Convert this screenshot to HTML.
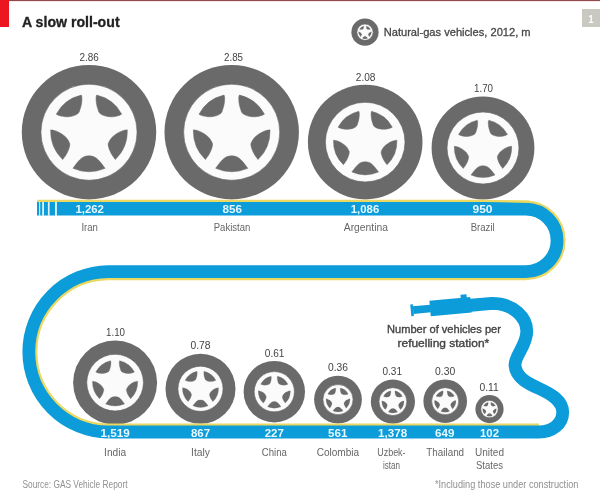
<!DOCTYPE html>
<html lang="en"><head><meta charset="utf-8"><title>A slow roll-out</title>
<style>html,body{margin:0;padding:0;background:#fff}svg{display:block}text{font-family:'Liberation Sans', sans-serif}</style>
</head><body>
<svg width="600" height="491" viewBox="0 0 600 491">
<rect width="600" height="491" fill="#fff"/>
<rect x="0" y="0" width="600" height="1" fill="#8f4a50"/>
<rect x="0" y="1" width="600" height="1" fill="#fbe6e8"/>
<rect x="0" y="0" width="9" height="27" fill="#ec1620"/>
<rect x="582" y="9" width="18" height="18" fill="#c9c9c1"/>
<text x="588.50" y="22.50" font-size="11" font-weight="bold" fill="#fff" textLength="5.00" lengthAdjust="spacingAndGlyphs">1</text>
<text x="22.00" y="27.00" font-size="14" font-weight="bold" fill="#222" stroke="#222" stroke-width="0.3" textLength="97.60" lengthAdjust="spacingAndGlyphs">A slow roll-out</text>
<circle cx="365.00" cy="32.20" r="13.60" fill="#6a6a6a"/>
<circle cx="365.00" cy="32.20" r="8.16" fill="#fbfbfb" stroke="#5f5f5f" stroke-width="0.6"/>
<g transform="translate(365.00,32.20) scale(8.160)" fill="#6a6a6a" stroke="#6a6a6a" stroke-width="0.012" stroke-linejoin="round">
<path d="M-0.160,-0.772 C-0.158,-0.766 -0.151,-0.757 -0.149,-0.738 C-0.147,-0.718 -0.147,-0.684 -0.149,-0.654 C-0.151,-0.624 -0.156,-0.587 -0.163,-0.557 C-0.169,-0.527 -0.179,-0.499 -0.188,-0.474 C-0.196,-0.448 -0.199,-0.424 -0.215,-0.404 C-0.231,-0.384 -0.257,-0.369 -0.285,-0.356 C-0.313,-0.343 -0.347,-0.334 -0.382,-0.328 C-0.417,-0.322 -0.456,-0.319 -0.493,-0.321 C-0.530,-0.323 -0.573,-0.333 -0.604,-0.342 C-0.635,-0.351 -0.668,-0.370 -0.681,-0.376 A0.8,0.8 0 0 1 -0.160,-0.772ZM0.160,-0.772 C0.158,-0.766 0.151,-0.757 0.149,-0.738 C0.147,-0.718 0.147,-0.684 0.149,-0.654 C0.151,-0.624 0.156,-0.587 0.163,-0.557 C0.169,-0.527 0.179,-0.499 0.188,-0.474 C0.196,-0.448 0.199,-0.424 0.215,-0.404 C0.231,-0.384 0.257,-0.369 0.285,-0.356 C0.313,-0.343 0.347,-0.334 0.382,-0.328 C0.417,-0.322 0.456,-0.319 0.493,-0.321 C0.530,-0.323 0.573,-0.333 0.604,-0.342 C0.635,-0.351 0.668,-0.370 0.681,-0.376 A0.8,0.8 0 0 0 0.160,-0.772ZM-0.797,-0.049 C-0.780,-0.045 -0.729,-0.041 -0.692,-0.027 C-0.655,-0.013 -0.610,0.009 -0.573,0.033 C-0.536,0.057 -0.498,0.088 -0.471,0.117 C-0.444,0.147 -0.424,0.186 -0.412,0.211 C-0.400,0.236 -0.397,0.243 -0.400,0.270 C-0.403,0.297 -0.416,0.338 -0.429,0.372 C-0.442,0.406 -0.460,0.441 -0.480,0.474 C-0.500,0.507 -0.537,0.552 -0.548,0.568 A0.82,0.82 0 0 1 -0.797,-0.049ZM0.797,-0.049 C0.780,-0.045 0.729,-0.041 0.692,-0.027 C0.655,-0.013 0.610,0.009 0.573,0.033 C0.536,0.057 0.498,0.088 0.471,0.117 C0.444,0.147 0.424,0.186 0.412,0.211 C0.400,0.236 0.397,0.243 0.400,0.270 C0.403,0.297 0.416,0.338 0.429,0.372 C0.442,0.406 0.460,0.441 0.480,0.474 C0.500,0.507 0.537,0.552 0.548,0.568 A0.82,0.82 0 0 0 0.797,-0.049ZM-0.334,0.751 C-0.323,0.737 -0.293,0.694 -0.269,0.664 C-0.245,0.634 -0.218,0.599 -0.191,0.574 C-0.164,0.548 -0.136,0.526 -0.104,0.512 C-0.072,0.499 -0.035,0.492 0.000,0.492 C0.035,0.492 0.072,0.499 0.104,0.512 C0.136,0.526 0.164,0.548 0.191,0.574 C0.218,0.599 0.245,0.634 0.269,0.664 C0.293,0.694 0.323,0.737 0.334,0.751 A0.84,0.84 0 0 1 -0.334,0.751Z"/>
</g>
<text x="383.70" y="35.80" font-size="11" font-weight="normal" fill="#484848" stroke="#484848" stroke-width="0.3" textLength="146.90" lengthAdjust="spacingAndGlyphs">Natural-gas vehicles, 2012, m</text>
<circle cx="89.00" cy="132.20" r="67.20" fill="#6a6a6a"/>
<circle cx="89.00" cy="132.20" r="48.05" fill="#fbfbfb" stroke="#5f5f5f" stroke-width="0.6"/>
<g transform="translate(89.00,132.20) scale(48.048)" fill="#6a6a6a" stroke="#6a6a6a" stroke-width="0.012" stroke-linejoin="round">
<path d="M-0.160,-0.772 C-0.158,-0.766 -0.151,-0.757 -0.149,-0.738 C-0.147,-0.718 -0.147,-0.684 -0.149,-0.654 C-0.151,-0.624 -0.156,-0.587 -0.163,-0.557 C-0.169,-0.527 -0.179,-0.499 -0.188,-0.474 C-0.196,-0.448 -0.199,-0.424 -0.215,-0.404 C-0.231,-0.384 -0.257,-0.369 -0.285,-0.356 C-0.313,-0.343 -0.347,-0.334 -0.382,-0.328 C-0.417,-0.322 -0.456,-0.319 -0.493,-0.321 C-0.530,-0.323 -0.573,-0.333 -0.604,-0.342 C-0.635,-0.351 -0.668,-0.370 -0.681,-0.376 A0.8,0.8 0 0 1 -0.160,-0.772ZM0.160,-0.772 C0.158,-0.766 0.151,-0.757 0.149,-0.738 C0.147,-0.718 0.147,-0.684 0.149,-0.654 C0.151,-0.624 0.156,-0.587 0.163,-0.557 C0.169,-0.527 0.179,-0.499 0.188,-0.474 C0.196,-0.448 0.199,-0.424 0.215,-0.404 C0.231,-0.384 0.257,-0.369 0.285,-0.356 C0.313,-0.343 0.347,-0.334 0.382,-0.328 C0.417,-0.322 0.456,-0.319 0.493,-0.321 C0.530,-0.323 0.573,-0.333 0.604,-0.342 C0.635,-0.351 0.668,-0.370 0.681,-0.376 A0.8,0.8 0 0 0 0.160,-0.772ZM-0.797,-0.049 C-0.780,-0.045 -0.729,-0.041 -0.692,-0.027 C-0.655,-0.013 -0.610,0.009 -0.573,0.033 C-0.536,0.057 -0.498,0.088 -0.471,0.117 C-0.444,0.147 -0.424,0.186 -0.412,0.211 C-0.400,0.236 -0.397,0.243 -0.400,0.270 C-0.403,0.297 -0.416,0.338 -0.429,0.372 C-0.442,0.406 -0.460,0.441 -0.480,0.474 C-0.500,0.507 -0.537,0.552 -0.548,0.568 A0.82,0.82 0 0 1 -0.797,-0.049ZM0.797,-0.049 C0.780,-0.045 0.729,-0.041 0.692,-0.027 C0.655,-0.013 0.610,0.009 0.573,0.033 C0.536,0.057 0.498,0.088 0.471,0.117 C0.444,0.147 0.424,0.186 0.412,0.211 C0.400,0.236 0.397,0.243 0.400,0.270 C0.403,0.297 0.416,0.338 0.429,0.372 C0.442,0.406 0.460,0.441 0.480,0.474 C0.500,0.507 0.537,0.552 0.548,0.568 A0.82,0.82 0 0 0 0.797,-0.049ZM-0.334,0.751 C-0.323,0.737 -0.293,0.694 -0.269,0.664 C-0.245,0.634 -0.218,0.599 -0.191,0.574 C-0.164,0.548 -0.136,0.526 -0.104,0.512 C-0.072,0.499 -0.035,0.492 0.000,0.492 C0.035,0.492 0.072,0.499 0.104,0.512 C0.136,0.526 0.164,0.548 0.191,0.574 C0.218,0.599 0.245,0.634 0.269,0.664 C0.293,0.694 0.323,0.737 0.334,0.751 A0.84,0.84 0 0 1 -0.334,0.751Z"/>
</g>
<text x="79.50" y="60.60" font-size="10.5" font-weight="normal" fill="#444" textLength="19.30" lengthAdjust="spacingAndGlyphs">2.86</text>
<text x="81.45" y="231.20" font-size="10.5" font-weight="normal" fill="#666" textLength="16.50" lengthAdjust="spacingAndGlyphs">Iran</text>
<circle cx="231.70" cy="132.20" r="67.20" fill="#6a6a6a"/>
<circle cx="231.70" cy="132.20" r="48.05" fill="#fbfbfb" stroke="#5f5f5f" stroke-width="0.6"/>
<g transform="translate(231.70,132.20) scale(48.048)" fill="#6a6a6a" stroke="#6a6a6a" stroke-width="0.012" stroke-linejoin="round">
<path d="M-0.160,-0.772 C-0.158,-0.766 -0.151,-0.757 -0.149,-0.738 C-0.147,-0.718 -0.147,-0.684 -0.149,-0.654 C-0.151,-0.624 -0.156,-0.587 -0.163,-0.557 C-0.169,-0.527 -0.179,-0.499 -0.188,-0.474 C-0.196,-0.448 -0.199,-0.424 -0.215,-0.404 C-0.231,-0.384 -0.257,-0.369 -0.285,-0.356 C-0.313,-0.343 -0.347,-0.334 -0.382,-0.328 C-0.417,-0.322 -0.456,-0.319 -0.493,-0.321 C-0.530,-0.323 -0.573,-0.333 -0.604,-0.342 C-0.635,-0.351 -0.668,-0.370 -0.681,-0.376 A0.8,0.8 0 0 1 -0.160,-0.772ZM0.160,-0.772 C0.158,-0.766 0.151,-0.757 0.149,-0.738 C0.147,-0.718 0.147,-0.684 0.149,-0.654 C0.151,-0.624 0.156,-0.587 0.163,-0.557 C0.169,-0.527 0.179,-0.499 0.188,-0.474 C0.196,-0.448 0.199,-0.424 0.215,-0.404 C0.231,-0.384 0.257,-0.369 0.285,-0.356 C0.313,-0.343 0.347,-0.334 0.382,-0.328 C0.417,-0.322 0.456,-0.319 0.493,-0.321 C0.530,-0.323 0.573,-0.333 0.604,-0.342 C0.635,-0.351 0.668,-0.370 0.681,-0.376 A0.8,0.8 0 0 0 0.160,-0.772ZM-0.797,-0.049 C-0.780,-0.045 -0.729,-0.041 -0.692,-0.027 C-0.655,-0.013 -0.610,0.009 -0.573,0.033 C-0.536,0.057 -0.498,0.088 -0.471,0.117 C-0.444,0.147 -0.424,0.186 -0.412,0.211 C-0.400,0.236 -0.397,0.243 -0.400,0.270 C-0.403,0.297 -0.416,0.338 -0.429,0.372 C-0.442,0.406 -0.460,0.441 -0.480,0.474 C-0.500,0.507 -0.537,0.552 -0.548,0.568 A0.82,0.82 0 0 1 -0.797,-0.049ZM0.797,-0.049 C0.780,-0.045 0.729,-0.041 0.692,-0.027 C0.655,-0.013 0.610,0.009 0.573,0.033 C0.536,0.057 0.498,0.088 0.471,0.117 C0.444,0.147 0.424,0.186 0.412,0.211 C0.400,0.236 0.397,0.243 0.400,0.270 C0.403,0.297 0.416,0.338 0.429,0.372 C0.442,0.406 0.460,0.441 0.480,0.474 C0.500,0.507 0.537,0.552 0.548,0.568 A0.82,0.82 0 0 0 0.797,-0.049ZM-0.334,0.751 C-0.323,0.737 -0.293,0.694 -0.269,0.664 C-0.245,0.634 -0.218,0.599 -0.191,0.574 C-0.164,0.548 -0.136,0.526 -0.104,0.512 C-0.072,0.499 -0.035,0.492 0.000,0.492 C0.035,0.492 0.072,0.499 0.104,0.512 C0.136,0.526 0.164,0.548 0.191,0.574 C0.218,0.599 0.245,0.634 0.269,0.664 C0.293,0.694 0.323,0.737 0.334,0.751 A0.84,0.84 0 0 1 -0.334,0.751Z"/>
</g>
<text x="224.00" y="60.80" font-size="10.5" font-weight="normal" fill="#444" textLength="19.00" lengthAdjust="spacingAndGlyphs">2.85</text>
<text x="213.75" y="231.20" font-size="10.5" font-weight="normal" fill="#666" textLength="36.50" lengthAdjust="spacingAndGlyphs">Pakistan</text>
<circle cx="365.20" cy="142.10" r="57.30" fill="#6a6a6a"/>
<circle cx="365.20" cy="142.10" r="39.82" fill="#fbfbfb" stroke="#5f5f5f" stroke-width="0.6"/>
<g transform="translate(365.20,142.10) scale(39.823)" fill="#6a6a6a" stroke="#6a6a6a" stroke-width="0.012" stroke-linejoin="round">
<path d="M-0.160,-0.772 C-0.158,-0.766 -0.151,-0.757 -0.149,-0.738 C-0.147,-0.718 -0.147,-0.684 -0.149,-0.654 C-0.151,-0.624 -0.156,-0.587 -0.163,-0.557 C-0.169,-0.527 -0.179,-0.499 -0.188,-0.474 C-0.196,-0.448 -0.199,-0.424 -0.215,-0.404 C-0.231,-0.384 -0.257,-0.369 -0.285,-0.356 C-0.313,-0.343 -0.347,-0.334 -0.382,-0.328 C-0.417,-0.322 -0.456,-0.319 -0.493,-0.321 C-0.530,-0.323 -0.573,-0.333 -0.604,-0.342 C-0.635,-0.351 -0.668,-0.370 -0.681,-0.376 A0.8,0.8 0 0 1 -0.160,-0.772ZM0.160,-0.772 C0.158,-0.766 0.151,-0.757 0.149,-0.738 C0.147,-0.718 0.147,-0.684 0.149,-0.654 C0.151,-0.624 0.156,-0.587 0.163,-0.557 C0.169,-0.527 0.179,-0.499 0.188,-0.474 C0.196,-0.448 0.199,-0.424 0.215,-0.404 C0.231,-0.384 0.257,-0.369 0.285,-0.356 C0.313,-0.343 0.347,-0.334 0.382,-0.328 C0.417,-0.322 0.456,-0.319 0.493,-0.321 C0.530,-0.323 0.573,-0.333 0.604,-0.342 C0.635,-0.351 0.668,-0.370 0.681,-0.376 A0.8,0.8 0 0 0 0.160,-0.772ZM-0.797,-0.049 C-0.780,-0.045 -0.729,-0.041 -0.692,-0.027 C-0.655,-0.013 -0.610,0.009 -0.573,0.033 C-0.536,0.057 -0.498,0.088 -0.471,0.117 C-0.444,0.147 -0.424,0.186 -0.412,0.211 C-0.400,0.236 -0.397,0.243 -0.400,0.270 C-0.403,0.297 -0.416,0.338 -0.429,0.372 C-0.442,0.406 -0.460,0.441 -0.480,0.474 C-0.500,0.507 -0.537,0.552 -0.548,0.568 A0.82,0.82 0 0 1 -0.797,-0.049ZM0.797,-0.049 C0.780,-0.045 0.729,-0.041 0.692,-0.027 C0.655,-0.013 0.610,0.009 0.573,0.033 C0.536,0.057 0.498,0.088 0.471,0.117 C0.444,0.147 0.424,0.186 0.412,0.211 C0.400,0.236 0.397,0.243 0.400,0.270 C0.403,0.297 0.416,0.338 0.429,0.372 C0.442,0.406 0.460,0.441 0.480,0.474 C0.500,0.507 0.537,0.552 0.548,0.568 A0.82,0.82 0 0 0 0.797,-0.049ZM-0.334,0.751 C-0.323,0.737 -0.293,0.694 -0.269,0.664 C-0.245,0.634 -0.218,0.599 -0.191,0.574 C-0.164,0.548 -0.136,0.526 -0.104,0.512 C-0.072,0.499 -0.035,0.492 0.000,0.492 C0.035,0.492 0.072,0.499 0.104,0.512 C0.136,0.526 0.164,0.548 0.191,0.574 C0.218,0.599 0.245,0.634 0.269,0.664 C0.293,0.694 0.323,0.737 0.334,0.751 A0.84,0.84 0 0 1 -0.334,0.751Z"/>
</g>
<text x="355.80" y="80.50" font-size="10.5" font-weight="normal" fill="#444" textLength="19.70" lengthAdjust="spacingAndGlyphs">2.08</text>
<text x="343.80" y="231.20" font-size="10.5" font-weight="normal" fill="#666" textLength="44.20" lengthAdjust="spacingAndGlyphs">Argentina</text>
<circle cx="483.00" cy="148.00" r="51.40" fill="#6a6a6a"/>
<circle cx="483.00" cy="148.00" r="35.98" fill="#fbfbfb" stroke="#5f5f5f" stroke-width="0.6"/>
<g transform="translate(483.00,148.00) scale(35.980)" fill="#6a6a6a" stroke="#6a6a6a" stroke-width="0.012" stroke-linejoin="round">
<path d="M-0.160,-0.772 C-0.158,-0.766 -0.151,-0.757 -0.149,-0.738 C-0.147,-0.718 -0.147,-0.684 -0.149,-0.654 C-0.151,-0.624 -0.156,-0.587 -0.163,-0.557 C-0.169,-0.527 -0.179,-0.499 -0.188,-0.474 C-0.196,-0.448 -0.199,-0.424 -0.215,-0.404 C-0.231,-0.384 -0.257,-0.369 -0.285,-0.356 C-0.313,-0.343 -0.347,-0.334 -0.382,-0.328 C-0.417,-0.322 -0.456,-0.319 -0.493,-0.321 C-0.530,-0.323 -0.573,-0.333 -0.604,-0.342 C-0.635,-0.351 -0.668,-0.370 -0.681,-0.376 A0.8,0.8 0 0 1 -0.160,-0.772ZM0.160,-0.772 C0.158,-0.766 0.151,-0.757 0.149,-0.738 C0.147,-0.718 0.147,-0.684 0.149,-0.654 C0.151,-0.624 0.156,-0.587 0.163,-0.557 C0.169,-0.527 0.179,-0.499 0.188,-0.474 C0.196,-0.448 0.199,-0.424 0.215,-0.404 C0.231,-0.384 0.257,-0.369 0.285,-0.356 C0.313,-0.343 0.347,-0.334 0.382,-0.328 C0.417,-0.322 0.456,-0.319 0.493,-0.321 C0.530,-0.323 0.573,-0.333 0.604,-0.342 C0.635,-0.351 0.668,-0.370 0.681,-0.376 A0.8,0.8 0 0 0 0.160,-0.772ZM-0.797,-0.049 C-0.780,-0.045 -0.729,-0.041 -0.692,-0.027 C-0.655,-0.013 -0.610,0.009 -0.573,0.033 C-0.536,0.057 -0.498,0.088 -0.471,0.117 C-0.444,0.147 -0.424,0.186 -0.412,0.211 C-0.400,0.236 -0.397,0.243 -0.400,0.270 C-0.403,0.297 -0.416,0.338 -0.429,0.372 C-0.442,0.406 -0.460,0.441 -0.480,0.474 C-0.500,0.507 -0.537,0.552 -0.548,0.568 A0.82,0.82 0 0 1 -0.797,-0.049ZM0.797,-0.049 C0.780,-0.045 0.729,-0.041 0.692,-0.027 C0.655,-0.013 0.610,0.009 0.573,0.033 C0.536,0.057 0.498,0.088 0.471,0.117 C0.444,0.147 0.424,0.186 0.412,0.211 C0.400,0.236 0.397,0.243 0.400,0.270 C0.403,0.297 0.416,0.338 0.429,0.372 C0.442,0.406 0.460,0.441 0.480,0.474 C0.500,0.507 0.537,0.552 0.548,0.568 A0.82,0.82 0 0 0 0.797,-0.049ZM-0.334,0.751 C-0.323,0.737 -0.293,0.694 -0.269,0.664 C-0.245,0.634 -0.218,0.599 -0.191,0.574 C-0.164,0.548 -0.136,0.526 -0.104,0.512 C-0.072,0.499 -0.035,0.492 0.000,0.492 C0.035,0.492 0.072,0.499 0.104,0.512 C0.136,0.526 0.164,0.548 0.191,0.574 C0.218,0.599 0.245,0.634 0.269,0.664 C0.293,0.694 0.323,0.737 0.334,0.751 A0.84,0.84 0 0 1 -0.334,0.751Z"/>
</g>
<text x="474.00" y="91.50" font-size="10.5" font-weight="normal" fill="#444" textLength="19.00" lengthAdjust="spacingAndGlyphs">1.70</text>
<text x="470.75" y="231.20" font-size="10.5" font-weight="normal" fill="#666" textLength="23.90" lengthAdjust="spacingAndGlyphs">Brazil</text>
<circle cx="115.10" cy="382.60" r="42.00" fill="#6a6a6a"/>
<circle cx="115.10" cy="382.60" r="28.35" fill="#fbfbfb" stroke="#5f5f5f" stroke-width="0.6"/>
<g transform="translate(115.10,382.60) scale(28.350)" fill="#6a6a6a" stroke="#6a6a6a" stroke-width="0.012" stroke-linejoin="round">
<path d="M-0.160,-0.772 C-0.158,-0.766 -0.151,-0.757 -0.149,-0.738 C-0.147,-0.718 -0.147,-0.684 -0.149,-0.654 C-0.151,-0.624 -0.156,-0.587 -0.163,-0.557 C-0.169,-0.527 -0.179,-0.499 -0.188,-0.474 C-0.196,-0.448 -0.199,-0.424 -0.215,-0.404 C-0.231,-0.384 -0.257,-0.369 -0.285,-0.356 C-0.313,-0.343 -0.347,-0.334 -0.382,-0.328 C-0.417,-0.322 -0.456,-0.319 -0.493,-0.321 C-0.530,-0.323 -0.573,-0.333 -0.604,-0.342 C-0.635,-0.351 -0.668,-0.370 -0.681,-0.376 A0.8,0.8 0 0 1 -0.160,-0.772ZM0.160,-0.772 C0.158,-0.766 0.151,-0.757 0.149,-0.738 C0.147,-0.718 0.147,-0.684 0.149,-0.654 C0.151,-0.624 0.156,-0.587 0.163,-0.557 C0.169,-0.527 0.179,-0.499 0.188,-0.474 C0.196,-0.448 0.199,-0.424 0.215,-0.404 C0.231,-0.384 0.257,-0.369 0.285,-0.356 C0.313,-0.343 0.347,-0.334 0.382,-0.328 C0.417,-0.322 0.456,-0.319 0.493,-0.321 C0.530,-0.323 0.573,-0.333 0.604,-0.342 C0.635,-0.351 0.668,-0.370 0.681,-0.376 A0.8,0.8 0 0 0 0.160,-0.772ZM-0.797,-0.049 C-0.780,-0.045 -0.729,-0.041 -0.692,-0.027 C-0.655,-0.013 -0.610,0.009 -0.573,0.033 C-0.536,0.057 -0.498,0.088 -0.471,0.117 C-0.444,0.147 -0.424,0.186 -0.412,0.211 C-0.400,0.236 -0.397,0.243 -0.400,0.270 C-0.403,0.297 -0.416,0.338 -0.429,0.372 C-0.442,0.406 -0.460,0.441 -0.480,0.474 C-0.500,0.507 -0.537,0.552 -0.548,0.568 A0.82,0.82 0 0 1 -0.797,-0.049ZM0.797,-0.049 C0.780,-0.045 0.729,-0.041 0.692,-0.027 C0.655,-0.013 0.610,0.009 0.573,0.033 C0.536,0.057 0.498,0.088 0.471,0.117 C0.444,0.147 0.424,0.186 0.412,0.211 C0.400,0.236 0.397,0.243 0.400,0.270 C0.403,0.297 0.416,0.338 0.429,0.372 C0.442,0.406 0.460,0.441 0.480,0.474 C0.500,0.507 0.537,0.552 0.548,0.568 A0.82,0.82 0 0 0 0.797,-0.049ZM-0.334,0.751 C-0.323,0.737 -0.293,0.694 -0.269,0.664 C-0.245,0.634 -0.218,0.599 -0.191,0.574 C-0.164,0.548 -0.136,0.526 -0.104,0.512 C-0.072,0.499 -0.035,0.492 0.000,0.492 C0.035,0.492 0.072,0.499 0.104,0.512 C0.136,0.526 0.164,0.548 0.191,0.574 C0.218,0.599 0.245,0.634 0.269,0.664 C0.293,0.694 0.323,0.737 0.334,0.751 A0.84,0.84 0 0 1 -0.334,0.751Z"/>
</g>
<text x="106.00" y="335.80" font-size="10.5" font-weight="normal" fill="#444" textLength="19.00" lengthAdjust="spacingAndGlyphs">1.10</text>
<circle cx="200.50" cy="388.80" r="35.00" fill="#6a6a6a"/>
<circle cx="200.50" cy="388.80" r="22.57" fill="#fbfbfb" stroke="#5f5f5f" stroke-width="0.6"/>
<g transform="translate(200.50,388.80) scale(22.575)" fill="#6a6a6a" stroke="#6a6a6a" stroke-width="0.012" stroke-linejoin="round">
<path d="M-0.160,-0.772 C-0.158,-0.766 -0.151,-0.757 -0.149,-0.738 C-0.147,-0.718 -0.147,-0.684 -0.149,-0.654 C-0.151,-0.624 -0.156,-0.587 -0.163,-0.557 C-0.169,-0.527 -0.179,-0.499 -0.188,-0.474 C-0.196,-0.448 -0.199,-0.424 -0.215,-0.404 C-0.231,-0.384 -0.257,-0.369 -0.285,-0.356 C-0.313,-0.343 -0.347,-0.334 -0.382,-0.328 C-0.417,-0.322 -0.456,-0.319 -0.493,-0.321 C-0.530,-0.323 -0.573,-0.333 -0.604,-0.342 C-0.635,-0.351 -0.668,-0.370 -0.681,-0.376 A0.8,0.8 0 0 1 -0.160,-0.772ZM0.160,-0.772 C0.158,-0.766 0.151,-0.757 0.149,-0.738 C0.147,-0.718 0.147,-0.684 0.149,-0.654 C0.151,-0.624 0.156,-0.587 0.163,-0.557 C0.169,-0.527 0.179,-0.499 0.188,-0.474 C0.196,-0.448 0.199,-0.424 0.215,-0.404 C0.231,-0.384 0.257,-0.369 0.285,-0.356 C0.313,-0.343 0.347,-0.334 0.382,-0.328 C0.417,-0.322 0.456,-0.319 0.493,-0.321 C0.530,-0.323 0.573,-0.333 0.604,-0.342 C0.635,-0.351 0.668,-0.370 0.681,-0.376 A0.8,0.8 0 0 0 0.160,-0.772ZM-0.797,-0.049 C-0.780,-0.045 -0.729,-0.041 -0.692,-0.027 C-0.655,-0.013 -0.610,0.009 -0.573,0.033 C-0.536,0.057 -0.498,0.088 -0.471,0.117 C-0.444,0.147 -0.424,0.186 -0.412,0.211 C-0.400,0.236 -0.397,0.243 -0.400,0.270 C-0.403,0.297 -0.416,0.338 -0.429,0.372 C-0.442,0.406 -0.460,0.441 -0.480,0.474 C-0.500,0.507 -0.537,0.552 -0.548,0.568 A0.82,0.82 0 0 1 -0.797,-0.049ZM0.797,-0.049 C0.780,-0.045 0.729,-0.041 0.692,-0.027 C0.655,-0.013 0.610,0.009 0.573,0.033 C0.536,0.057 0.498,0.088 0.471,0.117 C0.444,0.147 0.424,0.186 0.412,0.211 C0.400,0.236 0.397,0.243 0.400,0.270 C0.403,0.297 0.416,0.338 0.429,0.372 C0.442,0.406 0.460,0.441 0.480,0.474 C0.500,0.507 0.537,0.552 0.548,0.568 A0.82,0.82 0 0 0 0.797,-0.049ZM-0.334,0.751 C-0.323,0.737 -0.293,0.694 -0.269,0.664 C-0.245,0.634 -0.218,0.599 -0.191,0.574 C-0.164,0.548 -0.136,0.526 -0.104,0.512 C-0.072,0.499 -0.035,0.492 0.000,0.492 C0.035,0.492 0.072,0.499 0.104,0.512 C0.136,0.526 0.164,0.548 0.191,0.574 C0.218,0.599 0.245,0.634 0.269,0.664 C0.293,0.694 0.323,0.737 0.334,0.751 A0.84,0.84 0 0 1 -0.334,0.751Z"/>
</g>
<text x="190.50" y="349.00" font-size="10.5" font-weight="normal" fill="#444" textLength="20.00" lengthAdjust="spacingAndGlyphs">0.78</text>
<circle cx="274.30" cy="391.70" r="30.70" fill="#6a6a6a"/>
<circle cx="274.30" cy="391.70" r="20.11" fill="#fbfbfb" stroke="#5f5f5f" stroke-width="0.6"/>
<g transform="translate(274.30,391.70) scale(20.108)" fill="#6a6a6a" stroke="#6a6a6a" stroke-width="0.012" stroke-linejoin="round">
<path d="M-0.160,-0.772 C-0.158,-0.766 -0.151,-0.757 -0.149,-0.738 C-0.147,-0.718 -0.147,-0.684 -0.149,-0.654 C-0.151,-0.624 -0.156,-0.587 -0.163,-0.557 C-0.169,-0.527 -0.179,-0.499 -0.188,-0.474 C-0.196,-0.448 -0.199,-0.424 -0.215,-0.404 C-0.231,-0.384 -0.257,-0.369 -0.285,-0.356 C-0.313,-0.343 -0.347,-0.334 -0.382,-0.328 C-0.417,-0.322 -0.456,-0.319 -0.493,-0.321 C-0.530,-0.323 -0.573,-0.333 -0.604,-0.342 C-0.635,-0.351 -0.668,-0.370 -0.681,-0.376 A0.8,0.8 0 0 1 -0.160,-0.772ZM0.160,-0.772 C0.158,-0.766 0.151,-0.757 0.149,-0.738 C0.147,-0.718 0.147,-0.684 0.149,-0.654 C0.151,-0.624 0.156,-0.587 0.163,-0.557 C0.169,-0.527 0.179,-0.499 0.188,-0.474 C0.196,-0.448 0.199,-0.424 0.215,-0.404 C0.231,-0.384 0.257,-0.369 0.285,-0.356 C0.313,-0.343 0.347,-0.334 0.382,-0.328 C0.417,-0.322 0.456,-0.319 0.493,-0.321 C0.530,-0.323 0.573,-0.333 0.604,-0.342 C0.635,-0.351 0.668,-0.370 0.681,-0.376 A0.8,0.8 0 0 0 0.160,-0.772ZM-0.797,-0.049 C-0.780,-0.045 -0.729,-0.041 -0.692,-0.027 C-0.655,-0.013 -0.610,0.009 -0.573,0.033 C-0.536,0.057 -0.498,0.088 -0.471,0.117 C-0.444,0.147 -0.424,0.186 -0.412,0.211 C-0.400,0.236 -0.397,0.243 -0.400,0.270 C-0.403,0.297 -0.416,0.338 -0.429,0.372 C-0.442,0.406 -0.460,0.441 -0.480,0.474 C-0.500,0.507 -0.537,0.552 -0.548,0.568 A0.82,0.82 0 0 1 -0.797,-0.049ZM0.797,-0.049 C0.780,-0.045 0.729,-0.041 0.692,-0.027 C0.655,-0.013 0.610,0.009 0.573,0.033 C0.536,0.057 0.498,0.088 0.471,0.117 C0.444,0.147 0.424,0.186 0.412,0.211 C0.400,0.236 0.397,0.243 0.400,0.270 C0.403,0.297 0.416,0.338 0.429,0.372 C0.442,0.406 0.460,0.441 0.480,0.474 C0.500,0.507 0.537,0.552 0.548,0.568 A0.82,0.82 0 0 0 0.797,-0.049ZM-0.334,0.751 C-0.323,0.737 -0.293,0.694 -0.269,0.664 C-0.245,0.634 -0.218,0.599 -0.191,0.574 C-0.164,0.548 -0.136,0.526 -0.104,0.512 C-0.072,0.499 -0.035,0.492 0.000,0.492 C0.035,0.492 0.072,0.499 0.104,0.512 C0.136,0.526 0.164,0.548 0.191,0.574 C0.218,0.599 0.245,0.634 0.269,0.664 C0.293,0.694 0.323,0.737 0.334,0.751 A0.84,0.84 0 0 1 -0.334,0.751Z"/>
</g>
<text x="264.80" y="357.00" font-size="10.5" font-weight="normal" fill="#444" textLength="19.70" lengthAdjust="spacingAndGlyphs">0.61</text>
<circle cx="338.00" cy="399.60" r="23.90" fill="#6a6a6a"/>
<circle cx="338.00" cy="399.60" r="15.06" fill="#fbfbfb" stroke="#5f5f5f" stroke-width="0.6"/>
<g transform="translate(338.00,399.60) scale(15.057)" fill="#6a6a6a" stroke="#6a6a6a" stroke-width="0.012" stroke-linejoin="round">
<path d="M-0.160,-0.772 C-0.158,-0.766 -0.151,-0.757 -0.149,-0.738 C-0.147,-0.718 -0.147,-0.684 -0.149,-0.654 C-0.151,-0.624 -0.156,-0.587 -0.163,-0.557 C-0.169,-0.527 -0.179,-0.499 -0.188,-0.474 C-0.196,-0.448 -0.199,-0.424 -0.215,-0.404 C-0.231,-0.384 -0.257,-0.369 -0.285,-0.356 C-0.313,-0.343 -0.347,-0.334 -0.382,-0.328 C-0.417,-0.322 -0.456,-0.319 -0.493,-0.321 C-0.530,-0.323 -0.573,-0.333 -0.604,-0.342 C-0.635,-0.351 -0.668,-0.370 -0.681,-0.376 A0.8,0.8 0 0 1 -0.160,-0.772ZM0.160,-0.772 C0.158,-0.766 0.151,-0.757 0.149,-0.738 C0.147,-0.718 0.147,-0.684 0.149,-0.654 C0.151,-0.624 0.156,-0.587 0.163,-0.557 C0.169,-0.527 0.179,-0.499 0.188,-0.474 C0.196,-0.448 0.199,-0.424 0.215,-0.404 C0.231,-0.384 0.257,-0.369 0.285,-0.356 C0.313,-0.343 0.347,-0.334 0.382,-0.328 C0.417,-0.322 0.456,-0.319 0.493,-0.321 C0.530,-0.323 0.573,-0.333 0.604,-0.342 C0.635,-0.351 0.668,-0.370 0.681,-0.376 A0.8,0.8 0 0 0 0.160,-0.772ZM-0.797,-0.049 C-0.780,-0.045 -0.729,-0.041 -0.692,-0.027 C-0.655,-0.013 -0.610,0.009 -0.573,0.033 C-0.536,0.057 -0.498,0.088 -0.471,0.117 C-0.444,0.147 -0.424,0.186 -0.412,0.211 C-0.400,0.236 -0.397,0.243 -0.400,0.270 C-0.403,0.297 -0.416,0.338 -0.429,0.372 C-0.442,0.406 -0.460,0.441 -0.480,0.474 C-0.500,0.507 -0.537,0.552 -0.548,0.568 A0.82,0.82 0 0 1 -0.797,-0.049ZM0.797,-0.049 C0.780,-0.045 0.729,-0.041 0.692,-0.027 C0.655,-0.013 0.610,0.009 0.573,0.033 C0.536,0.057 0.498,0.088 0.471,0.117 C0.444,0.147 0.424,0.186 0.412,0.211 C0.400,0.236 0.397,0.243 0.400,0.270 C0.403,0.297 0.416,0.338 0.429,0.372 C0.442,0.406 0.460,0.441 0.480,0.474 C0.500,0.507 0.537,0.552 0.548,0.568 A0.82,0.82 0 0 0 0.797,-0.049ZM-0.334,0.751 C-0.323,0.737 -0.293,0.694 -0.269,0.664 C-0.245,0.634 -0.218,0.599 -0.191,0.574 C-0.164,0.548 -0.136,0.526 -0.104,0.512 C-0.072,0.499 -0.035,0.492 0.000,0.492 C0.035,0.492 0.072,0.499 0.104,0.512 C0.136,0.526 0.164,0.548 0.191,0.574 C0.218,0.599 0.245,0.634 0.269,0.664 C0.293,0.694 0.323,0.737 0.334,0.751 A0.84,0.84 0 0 1 -0.334,0.751Z"/>
</g>
<text x="328.00" y="371.00" font-size="10.5" font-weight="normal" fill="#444" textLength="20.00" lengthAdjust="spacingAndGlyphs">0.36</text>
<circle cx="392.90" cy="401.60" r="22.10" fill="#6a6a6a"/>
<circle cx="392.90" cy="401.60" r="13.92" fill="#fbfbfb" stroke="#5f5f5f" stroke-width="0.6"/>
<g transform="translate(392.90,401.60) scale(13.923)" fill="#6a6a6a" stroke="#6a6a6a" stroke-width="0.012" stroke-linejoin="round">
<path d="M-0.160,-0.772 C-0.158,-0.766 -0.151,-0.757 -0.149,-0.738 C-0.147,-0.718 -0.147,-0.684 -0.149,-0.654 C-0.151,-0.624 -0.156,-0.587 -0.163,-0.557 C-0.169,-0.527 -0.179,-0.499 -0.188,-0.474 C-0.196,-0.448 -0.199,-0.424 -0.215,-0.404 C-0.231,-0.384 -0.257,-0.369 -0.285,-0.356 C-0.313,-0.343 -0.347,-0.334 -0.382,-0.328 C-0.417,-0.322 -0.456,-0.319 -0.493,-0.321 C-0.530,-0.323 -0.573,-0.333 -0.604,-0.342 C-0.635,-0.351 -0.668,-0.370 -0.681,-0.376 A0.8,0.8 0 0 1 -0.160,-0.772ZM0.160,-0.772 C0.158,-0.766 0.151,-0.757 0.149,-0.738 C0.147,-0.718 0.147,-0.684 0.149,-0.654 C0.151,-0.624 0.156,-0.587 0.163,-0.557 C0.169,-0.527 0.179,-0.499 0.188,-0.474 C0.196,-0.448 0.199,-0.424 0.215,-0.404 C0.231,-0.384 0.257,-0.369 0.285,-0.356 C0.313,-0.343 0.347,-0.334 0.382,-0.328 C0.417,-0.322 0.456,-0.319 0.493,-0.321 C0.530,-0.323 0.573,-0.333 0.604,-0.342 C0.635,-0.351 0.668,-0.370 0.681,-0.376 A0.8,0.8 0 0 0 0.160,-0.772ZM-0.797,-0.049 C-0.780,-0.045 -0.729,-0.041 -0.692,-0.027 C-0.655,-0.013 -0.610,0.009 -0.573,0.033 C-0.536,0.057 -0.498,0.088 -0.471,0.117 C-0.444,0.147 -0.424,0.186 -0.412,0.211 C-0.400,0.236 -0.397,0.243 -0.400,0.270 C-0.403,0.297 -0.416,0.338 -0.429,0.372 C-0.442,0.406 -0.460,0.441 -0.480,0.474 C-0.500,0.507 -0.537,0.552 -0.548,0.568 A0.82,0.82 0 0 1 -0.797,-0.049ZM0.797,-0.049 C0.780,-0.045 0.729,-0.041 0.692,-0.027 C0.655,-0.013 0.610,0.009 0.573,0.033 C0.536,0.057 0.498,0.088 0.471,0.117 C0.444,0.147 0.424,0.186 0.412,0.211 C0.400,0.236 0.397,0.243 0.400,0.270 C0.403,0.297 0.416,0.338 0.429,0.372 C0.442,0.406 0.460,0.441 0.480,0.474 C0.500,0.507 0.537,0.552 0.548,0.568 A0.82,0.82 0 0 0 0.797,-0.049ZM-0.334,0.751 C-0.323,0.737 -0.293,0.694 -0.269,0.664 C-0.245,0.634 -0.218,0.599 -0.191,0.574 C-0.164,0.548 -0.136,0.526 -0.104,0.512 C-0.072,0.499 -0.035,0.492 0.000,0.492 C0.035,0.492 0.072,0.499 0.104,0.512 C0.136,0.526 0.164,0.548 0.191,0.574 C0.218,0.599 0.245,0.634 0.269,0.664 C0.293,0.694 0.323,0.737 0.334,0.751 A0.84,0.84 0 0 1 -0.334,0.751Z"/>
</g>
<text x="382.50" y="374.80" font-size="10.5" font-weight="normal" fill="#444" textLength="19.50" lengthAdjust="spacingAndGlyphs">0.31</text>
<circle cx="445.20" cy="401.20" r="21.80" fill="#6a6a6a"/>
<circle cx="445.20" cy="401.20" r="13.52" fill="#fbfbfb" stroke="#5f5f5f" stroke-width="0.6"/>
<g transform="translate(445.20,401.20) scale(13.516)" fill="#6a6a6a" stroke="#6a6a6a" stroke-width="0.012" stroke-linejoin="round">
<path d="M-0.160,-0.772 C-0.158,-0.766 -0.151,-0.757 -0.149,-0.738 C-0.147,-0.718 -0.147,-0.684 -0.149,-0.654 C-0.151,-0.624 -0.156,-0.587 -0.163,-0.557 C-0.169,-0.527 -0.179,-0.499 -0.188,-0.474 C-0.196,-0.448 -0.199,-0.424 -0.215,-0.404 C-0.231,-0.384 -0.257,-0.369 -0.285,-0.356 C-0.313,-0.343 -0.347,-0.334 -0.382,-0.328 C-0.417,-0.322 -0.456,-0.319 -0.493,-0.321 C-0.530,-0.323 -0.573,-0.333 -0.604,-0.342 C-0.635,-0.351 -0.668,-0.370 -0.681,-0.376 A0.8,0.8 0 0 1 -0.160,-0.772ZM0.160,-0.772 C0.158,-0.766 0.151,-0.757 0.149,-0.738 C0.147,-0.718 0.147,-0.684 0.149,-0.654 C0.151,-0.624 0.156,-0.587 0.163,-0.557 C0.169,-0.527 0.179,-0.499 0.188,-0.474 C0.196,-0.448 0.199,-0.424 0.215,-0.404 C0.231,-0.384 0.257,-0.369 0.285,-0.356 C0.313,-0.343 0.347,-0.334 0.382,-0.328 C0.417,-0.322 0.456,-0.319 0.493,-0.321 C0.530,-0.323 0.573,-0.333 0.604,-0.342 C0.635,-0.351 0.668,-0.370 0.681,-0.376 A0.8,0.8 0 0 0 0.160,-0.772ZM-0.797,-0.049 C-0.780,-0.045 -0.729,-0.041 -0.692,-0.027 C-0.655,-0.013 -0.610,0.009 -0.573,0.033 C-0.536,0.057 -0.498,0.088 -0.471,0.117 C-0.444,0.147 -0.424,0.186 -0.412,0.211 C-0.400,0.236 -0.397,0.243 -0.400,0.270 C-0.403,0.297 -0.416,0.338 -0.429,0.372 C-0.442,0.406 -0.460,0.441 -0.480,0.474 C-0.500,0.507 -0.537,0.552 -0.548,0.568 A0.82,0.82 0 0 1 -0.797,-0.049ZM0.797,-0.049 C0.780,-0.045 0.729,-0.041 0.692,-0.027 C0.655,-0.013 0.610,0.009 0.573,0.033 C0.536,0.057 0.498,0.088 0.471,0.117 C0.444,0.147 0.424,0.186 0.412,0.211 C0.400,0.236 0.397,0.243 0.400,0.270 C0.403,0.297 0.416,0.338 0.429,0.372 C0.442,0.406 0.460,0.441 0.480,0.474 C0.500,0.507 0.537,0.552 0.548,0.568 A0.82,0.82 0 0 0 0.797,-0.049ZM-0.334,0.751 C-0.323,0.737 -0.293,0.694 -0.269,0.664 C-0.245,0.634 -0.218,0.599 -0.191,0.574 C-0.164,0.548 -0.136,0.526 -0.104,0.512 C-0.072,0.499 -0.035,0.492 0.000,0.492 C0.035,0.492 0.072,0.499 0.104,0.512 C0.136,0.526 0.164,0.548 0.191,0.574 C0.218,0.599 0.245,0.634 0.269,0.664 C0.293,0.694 0.323,0.737 0.334,0.751 A0.84,0.84 0 0 1 -0.334,0.751Z"/>
</g>
<text x="435.00" y="375.00" font-size="10.5" font-weight="normal" fill="#444" textLength="20.20" lengthAdjust="spacingAndGlyphs">0.30</text>
<circle cx="489.50" cy="409.10" r="14.10" fill="#6a6a6a"/>
<circle cx="489.50" cy="409.10" r="8.74" fill="#fbfbfb" stroke="#5f5f5f" stroke-width="0.6"/>
<g transform="translate(489.50,409.10) scale(8.742)" fill="#6a6a6a" stroke="#6a6a6a" stroke-width="0.012" stroke-linejoin="round">
<path d="M-0.160,-0.772 C-0.158,-0.766 -0.151,-0.757 -0.149,-0.738 C-0.147,-0.718 -0.147,-0.684 -0.149,-0.654 C-0.151,-0.624 -0.156,-0.587 -0.163,-0.557 C-0.169,-0.527 -0.179,-0.499 -0.188,-0.474 C-0.196,-0.448 -0.199,-0.424 -0.215,-0.404 C-0.231,-0.384 -0.257,-0.369 -0.285,-0.356 C-0.313,-0.343 -0.347,-0.334 -0.382,-0.328 C-0.417,-0.322 -0.456,-0.319 -0.493,-0.321 C-0.530,-0.323 -0.573,-0.333 -0.604,-0.342 C-0.635,-0.351 -0.668,-0.370 -0.681,-0.376 A0.8,0.8 0 0 1 -0.160,-0.772ZM0.160,-0.772 C0.158,-0.766 0.151,-0.757 0.149,-0.738 C0.147,-0.718 0.147,-0.684 0.149,-0.654 C0.151,-0.624 0.156,-0.587 0.163,-0.557 C0.169,-0.527 0.179,-0.499 0.188,-0.474 C0.196,-0.448 0.199,-0.424 0.215,-0.404 C0.231,-0.384 0.257,-0.369 0.285,-0.356 C0.313,-0.343 0.347,-0.334 0.382,-0.328 C0.417,-0.322 0.456,-0.319 0.493,-0.321 C0.530,-0.323 0.573,-0.333 0.604,-0.342 C0.635,-0.351 0.668,-0.370 0.681,-0.376 A0.8,0.8 0 0 0 0.160,-0.772ZM-0.797,-0.049 C-0.780,-0.045 -0.729,-0.041 -0.692,-0.027 C-0.655,-0.013 -0.610,0.009 -0.573,0.033 C-0.536,0.057 -0.498,0.088 -0.471,0.117 C-0.444,0.147 -0.424,0.186 -0.412,0.211 C-0.400,0.236 -0.397,0.243 -0.400,0.270 C-0.403,0.297 -0.416,0.338 -0.429,0.372 C-0.442,0.406 -0.460,0.441 -0.480,0.474 C-0.500,0.507 -0.537,0.552 -0.548,0.568 A0.82,0.82 0 0 1 -0.797,-0.049ZM0.797,-0.049 C0.780,-0.045 0.729,-0.041 0.692,-0.027 C0.655,-0.013 0.610,0.009 0.573,0.033 C0.536,0.057 0.498,0.088 0.471,0.117 C0.444,0.147 0.424,0.186 0.412,0.211 C0.400,0.236 0.397,0.243 0.400,0.270 C0.403,0.297 0.416,0.338 0.429,0.372 C0.442,0.406 0.460,0.441 0.480,0.474 C0.500,0.507 0.537,0.552 0.548,0.568 A0.82,0.82 0 0 0 0.797,-0.049ZM-0.334,0.751 C-0.323,0.737 -0.293,0.694 -0.269,0.664 C-0.245,0.634 -0.218,0.599 -0.191,0.574 C-0.164,0.548 -0.136,0.526 -0.104,0.512 C-0.072,0.499 -0.035,0.492 0.000,0.492 C0.035,0.492 0.072,0.499 0.104,0.512 C0.136,0.526 0.164,0.548 0.191,0.574 C0.218,0.599 0.245,0.634 0.269,0.664 C0.293,0.694 0.323,0.737 0.334,0.751 A0.84,0.84 0 0 1 -0.334,0.751Z"/>
</g>
<text x="479.50" y="391.00" font-size="10.5" font-weight="normal" fill="#444" textLength="19.30" lengthAdjust="spacingAndGlyphs">0.11</text>
<text x="104.10" y="455.60" font-size="10.5" font-weight="normal" fill="#666" textLength="22.00" lengthAdjust="spacingAndGlyphs">India</text>
<text x="191.00" y="455.60" font-size="10.5" font-weight="normal" fill="#666" textLength="19.00" lengthAdjust="spacingAndGlyphs">Italy</text>
<text x="261.80" y="455.60" font-size="10.5" font-weight="normal" fill="#666" textLength="25.00" lengthAdjust="spacingAndGlyphs">China</text>
<text x="316.70" y="455.60" font-size="10.5" font-weight="normal" fill="#666" textLength="42.40" lengthAdjust="spacingAndGlyphs">Colombia</text>
<text x="377.20" y="455.60" font-size="10.5" font-weight="normal" fill="#666" textLength="28.40" lengthAdjust="spacingAndGlyphs">Uzbek-</text>
<text x="382.90" y="468.80" font-size="10.5" font-weight="normal" fill="#666" textLength="17.00" lengthAdjust="spacingAndGlyphs">istan</text>
<text x="426.30" y="455.60" font-size="10.5" font-weight="normal" fill="#666" textLength="37.80" lengthAdjust="spacingAndGlyphs">Thailand</text>
<text x="475.00" y="455.60" font-size="10.5" font-weight="normal" fill="#666" textLength="29.00" lengthAdjust="spacingAndGlyphs">United</text>
<text x="476.00" y="468.80" font-size="10.5" font-weight="normal" fill="#666" textLength="27.00" lengthAdjust="spacingAndGlyphs">States</text>
<path d="M37.0,206.95 L525.8,206.95 A33.45,33.45 0 0 1 525.8,273.85 L108.1,273.85 A77.98,77.98 0 0 0 108.1,429.80  L539,429.80" fill="none" stroke="#ead862" stroke-width="12.8"/>
<path d="M37.0,209.15 L525.8,209.15 A31.25,31.25 0 0 1 525.8,271.65 L108.1,271.65 A80.18,80.18 0 0 0 108.1,432.00  L539,432 C552,432 562.9,424 562.7,412 C562.5,401 552,394.3 539.1,388.5 C530,384.5 515.5,378 515,365 C514.6,356 527,345 526.8,331 C526.8,318 514,303.5 492,303.4 L468,305.5" fill="none" stroke="#0b9cd9" stroke-width="12.8" stroke-linejoin="round"/>
<polygon points="37.0,199.7 485.79999999999995,199.7 529.8,200.6 529.8,203 37.0,203" fill="#ead862"/>
<polygon points="37.0,202.1 485.79999999999995,202.1 529.8,203.0 529.8,205 37.0,205" fill="#0b9cd9"/>
<rect x="39.1" y="201.9" width="1.1" height="14" fill="#def3fb"/>
<rect x="42.2" y="201.9" width="1.8" height="14" fill="#def3fb"/>
<rect x="47.9" y="201.9" width="1.7" height="14" fill="#def3fb"/>
<rect x="55.0" y="201.9" width="1.9" height="14" fill="#def3fb"/>
<g transform="translate(0,0.7) rotate(-5.2 450 306)" fill="#0b9cd9">
<rect x="410.6" y="300.3" width="2.6" height="11.7"/>
<rect x="413" y="302.3" width="17.5" height="7.6"/>
<rect x="430" y="298.2" width="41" height="15.6"/>
<rect x="461.5" y="295" width="6" height="4"/>
</g>
<text x="75.45" y="213.00" font-size="11" font-weight="bold" fill="#e8f8ff" textLength="28.50" lengthAdjust="spacingAndGlyphs">1,262</text>
<text x="222.45" y="213.00" font-size="11" font-weight="bold" fill="#e8f8ff" textLength="19.50" lengthAdjust="spacingAndGlyphs">856</text>
<text x="350.80" y="213.00" font-size="11" font-weight="bold" fill="#e8f8ff" textLength="28.40" lengthAdjust="spacingAndGlyphs">1,086</text>
<text x="472.50" y="213.00" font-size="11" font-weight="bold" fill="#e8f8ff" textLength="20.00" lengthAdjust="spacingAndGlyphs">950</text>
<text x="100.45" y="437.00" font-size="11" font-weight="bold" fill="#e8f8ff" textLength="29.30" lengthAdjust="spacingAndGlyphs">1,519</text>
<text x="190.90" y="437.00" font-size="11" font-weight="bold" fill="#e8f8ff" textLength="19.20" lengthAdjust="spacingAndGlyphs">867</text>
<text x="264.70" y="437.00" font-size="11" font-weight="bold" fill="#e8f8ff" textLength="19.20" lengthAdjust="spacingAndGlyphs">227</text>
<text x="328.00" y="437.00" font-size="11" font-weight="bold" fill="#e8f8ff" textLength="19.40" lengthAdjust="spacingAndGlyphs">561</text>
<text x="378.10" y="437.00" font-size="11" font-weight="bold" fill="#e8f8ff" textLength="29.00" lengthAdjust="spacingAndGlyphs">1,378</text>
<text x="435.00" y="437.00" font-size="11" font-weight="bold" fill="#e8f8ff" textLength="19.40" lengthAdjust="spacingAndGlyphs">649</text>
<text x="480.00" y="437.00" font-size="11" font-weight="bold" fill="#e8f8ff" textLength="19.00" lengthAdjust="spacingAndGlyphs">102</text>
<text x="387.00" y="333.20" font-size="11" font-weight="normal" fill="#444" stroke="#444" stroke-width="0.35" textLength="113.90" lengthAdjust="spacingAndGlyphs">Number of vehicles per</text>
<text x="397.50" y="347.00" font-size="11" font-weight="normal" fill="#444" stroke="#444" stroke-width="0.35" textLength="91.70" lengthAdjust="spacingAndGlyphs">refuelling station*</text>
<text x="22.50" y="488.00" font-size="10" font-weight="normal" fill="#909090" textLength="105.00" lengthAdjust="spacingAndGlyphs">Source: GAS Vehicle Report</text>
<text x="435.00" y="488.00" font-size="10" font-weight="normal" fill="#909090" textLength="143.40" lengthAdjust="spacingAndGlyphs">*Including those under construction</text>
</svg></body></html>
